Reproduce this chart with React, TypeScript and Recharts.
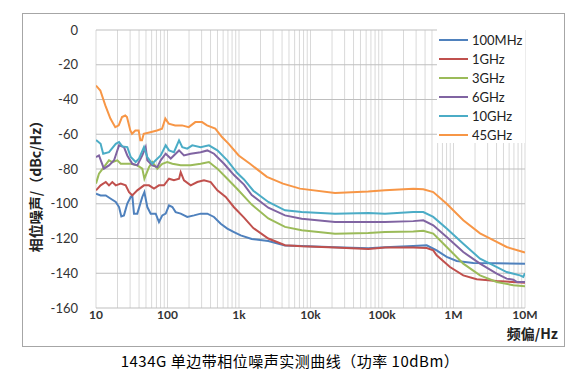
import { LineChart, Line, XAxis, YAxis, CartesianGrid } from 'recharts';

// offset frequency (Hz) / SSB phase noise (dBc/Hz)
const pn100MHz = [
  [10, -94.2], [11.6, -95.2], [13.7, -95.2], [16.1, -97.1], [18.9, -99], [21, -101.9], [22.6, -107.3],
  [24.6, -106.7], [27.4, -99.9], [30.6, -96.1], [32.2, -95.2], [34, -105.7], [37.8, -105.7], [44.4, -96.1],
  [47.5, -93.3], [52.2, -101.9], [58.2, -105.7], [68.4, -105.7], [76, -110.5], [84.6, -106.7], [94.4, -105.7],
  [105, -100.9], [117, -101.9], [130, -104.8], [153, -105.7], [189, -107.6], [235, -106.7], [291, -105.7],
  [361, -105.7], [447, -107.6], [555, -111.5], [686, -114.3], [851, -116.3], [1056, -118.2], [1506, -120.3],
  [2570, -121.4], [4400, -124], [7530, -124.3], [22000, -125], [64300, -125.6], [110000, -125], [274000, -124.3],
  [422000, -123.9], [582000, -126.8], [803000, -130.6], [1.11e6, -132.9], [1.89e6, -134.1], [4e6, -134.3], [1e7, -134.5],
];
const pn1GHz = [
  [10, -92.3], [11.6, -89.4], [13.7, -87.5], [15.2, -89.4], [16.9, -87.5], [18.9, -89.4], [22.2, -88.4],
  [26, -89.4], [29, -93.3], [32.2, -95.2], [37.8, -92.3], [46.9, -89.4], [55.1, -89.4], [64.7, -91.3],
  [76, -89.4], [89.3, -89.4], [105, -85.6], [123, -86.5], [145, -85.6], [153, -81.8], [170, -86.5],
  [211, -89.4], [261, -87.5], [324, -86.5], [402, -87.5], [498, -92.3], [652, -96.1], [851, -102],
  [1175, -108], [1585, -114], [2570, -120], [4400, -123.9], [7530, -124.5], [22000, -125.2], [64300, -126],
  [110000, -125.2], [274000, -125.2], [422000, -125.5], [521000, -126.8], [582000, -129.7], [893000, -136.4],
  [1.37e6, -141.2], [2.11e6, -143.5], [4.02e6, -144.5], [1e7, -145.4],
];
const pn3GHz = [
  [10, -88.4], [11, -82.7], [12.9, -78.9], [15.2, -75], [16.9, -76], [19.9, -75], [22.2, -77], [26, -77],
  [30.6, -77], [37.8, -77.9], [44.4, -79.8], [47.5, -85.6], [55.1, -78.9], [61.3, -76], [72, -79.8],
  [84.6, -77], [99.3, -76], [117, -77], [153, -77.9], [211, -77.9], [291, -77], [380, -76], [498, -79.8],
  [686, -85.6], [946, -91.5], [1506, -100.5], [2570, -108.5], [4400, -113.3], [7530, -115.3], [22000, -117.2],
  [64300, -116.8], [110000, -116.3], [274000, -115.9], [378000, -115.5], [521000, -117.2], [803000, -124.9],
  [1.37e6, -134.5], [2.35e6, -141.2], [4.02e6, -145], [6.86e6, -146.9], [1e7, -147.5],
];
const pn6GHz = [
  [10, -73.1], [11, -72.2], [12.9, -79.8], [15.2, -77.9], [17.9, -75], [21, -66.4], [24.6, -67.4],
  [27.4, -72.2], [32.2, -77], [37.8, -77.9], [44.4, -72.2], [49.5, -67.4], [52.2, -75], [61.3, -77.9],
  [72, -78.9], [80.3, -75], [94.4, -71.2], [111, -74], [130, -71.2], [145, -69.3], [170, -72.2],
  [211, -71.2], [291, -70.3], [361, -69.3], [447, -71.2], [617, -77], [851, -83.5], [1175, -89],
  [1506, -95], [2570, -102.3], [4400, -106.7], [7530, -108.6], [22000, -110.5], [64300, -110.5],
  [110000, -110.5], [274000, -110], [378000, -109.5], [521000, -112.4], [803000, -119.1], [1.37e6, -127.8],
  [2.35e6, -134.5], [4.02e6, -140.2], [5.54e6, -143.1], [6.86e6, -143.7], [7.65e6, -145], [1e7, -145],
];
const pn10GHz = [
  [10, -63.3], [11.6, -65.5], [12.6, -71.2], [15.2, -70.3], [18.9, -65.5], [21, -64.5], [23.3, -67],
  [27.4, -67.4], [30.6, -73.1], [35.9, -76], [39.9, -74], [46.9, -67.4], [52.2, -73.1], [61.3, -77],
  [68.4, -75], [80.3, -72.2], [94.4, -66.4], [105, -69.3], [123, -70.3], [145, -63.5], [161, -67.4],
  [189, -68.3], [222, -66.4], [291, -67.4], [380, -66.4], [498, -69.3], [686, -75], [946, -82.3],
  [1175, -86], [1585, -92.5], [2570, -99], [4400, -103.8], [7530, -104.8], [22000, -105.7], [64300, -105.3],
  [110000, -105.7], [274000, -104.8], [378000, -104.8], [521000, -107.6], [803000, -114.3], [1.37e6, -123],
  [2.35e6, -131.6], [3.24e6, -134.5], [5.54e6, -139.3], [8.51e6, -141.2], [9.46e6, -142.1], [1e7, -140],
];
const pn45GHz = [
  [10, -32], [11.5, -34.8], [13.5, -43.4], [15.9, -51], [18.6, -55.9], [20.8, -54.9], [23.1, -50.1],
  [25.7, -49.2], [27.1, -50.1], [30.2, -57.8], [31.9, -59.7], [35.5, -57.8], [39.5, -57.8], [41.7, -63.5],
  [44, -63.5], [46.5, -59.7], [57.5, -58.8], [71.3, -57.8], [83.8, -56.8], [93.2, -51], [104, -53.9],
  [128, -54.9], [160, -54.9], [198, -55.9], [245, -53], [304, -53], [357, -54.9], [466, -56.8], [578, -61.6],
  [718, -65.5], [990, -72.2], [1425, -77], [2457, -84.5], [4120, -88.4], [7130, -91.3], [22000, -93.8],
  [64300, -93], [110000, -92.3], [274000, -91.3], [378000, -91.7], [521000, -93.3], [803000, -100],
  [1.37e6, -109.5], [2.35e6, -117], [4.02e6, -122], [5.54e6, -124.9], [9.46e6, -127.8], [1e7, -128.1],
];

const seriesNames = ['100MHz', '1GHz', '3GHz', '6GHz', '10GHz', '45GHz'];
const seriesData = [pn100MHz, pn1GHz, pn3GHz, pn6GHz, pn10GHz, pn45GHz];
const seriesColors = ['#4F81BD', '#C0504D', '#9BBB59', '#8064A2', '#4BACC6', '#F79646'];

const majorTicks = [10, 100, 1000, 10000, 100000, 1000000, 10000000];
const majorLabels = ['10', '100', '1k', '10k', '100k', '1M', '10M'];
const yTicks = [0, -20, -40, -60, -80, -100, -120, -140, -160];

// every 1..9 step in each decade, for the log grid
const xTicks: number[] = [];
majorTicks.slice(0, -1).forEach((d) => {
  for (let m = 1; m < 10; m++) xTicks.push(m * d);
});
xTicks.push(10000000);

const FONT = "Lato, 'Noto Sans CJK SC', sans-serif";
const CJK = "'Noto Sans CJK SC', sans-serif";

function fmtX(v: number) {
  const i = majorTicks.indexOf(v);
  return i >= 0 ? majorLabels[i] : '';
}

function LegendBox() {
  return (
    <div style={{ position: 'absolute', left: 437, top: 29, background: '#fff', width: 88, height: 114, paddingTop: 1, boxSizing: 'border-box' }}>
      {seriesNames.map((n, i) => (
        <div key={n} style={{ display: 'flex', alignItems: 'center', height: 19, fontFamily: FONT, fontSize: 13, color: '#222' }}>
          <span style={{ display: 'inline-block', width: 29, height: 2, background: seriesColors[i], marginLeft: 2, marginRight: 4 }} />
          {n}
        </div>
      ))}
    </div>
  );
}

export default function App() {
  const data = seriesData.map((s) => s.map(([f, v]) => ({ f, v })));
  return (
    <div style={{ position: 'absolute', left: 0, top: 0, width: 585, height: 378, background: '#fff', fontFamily: FONT }}>
      <div style={{ position: 'absolute', left: 22, top: 13, width: 541, height: 332, border: '1px solid #a6a6a6' }} />
      <LineChart width={585} height={378} margin={{ top: 30, right: 60, bottom: 40, left: 36 }} style={{ position: 'absolute', left: 0, top: 0 }}>
        <CartesianGrid horizontal={false} stroke="#d9d9d9" />
        <CartesianGrid vertical={false} stroke="#bfbfbf" />
        <XAxis
          type="number"
          dataKey="f"
          scale="log"
          domain={[10, 10000000]}
          ticks={xTicks}
          interval={0}
          tickFormatter={fmtX}
          axisLine={false}
          tickLine={false}
          tickSize={0}
          tickMargin={2}
          height={30}
          allowDataOverflow
          tick={{ fontSize: 12, fontWeight: 'bold', fill: '#333', fontFamily: FONT }}
        />
        <YAxis
          type="number"
          dataKey="v"
          domain={[-160, 0]}
          ticks={yTicks}
          interval={0}
          axisLine={false}
          tickLine={false}
          tickSize={0}
          tickMargin={18}
          width={60}
          tick={{ fontSize: 13, fill: '#333', fontFamily: FONT }}
        />
        {seriesNames.map((n, i) => (
          <Line
            key={n}
            data={data[i]}
            dataKey="v"
            name={n}
            type="linear"
            stroke={seriesColors[i]}
            strokeWidth={2}
            dot={false}
            isAnimationActive={false}
          />
        ))}
      </LineChart>
      <LegendBox />
      <div style={{ position: 'absolute', left: 35, top: 183, transform: 'translate(-50%, -50%) rotate(-90deg)', whiteSpace: 'nowrap', fontSize: 14, fontWeight: 'bold', color: '#222', fontFamily: CJK }}>
        相位噪声/（dBc/Hz）
      </div>
      <div style={{ position: 'absolute', right: 27, top: 324, fontSize: 14, lineHeight: '18px', fontWeight: 'bold', color: '#222', fontFamily: CJK }}>频偏/Hz</div>
      <div style={{ position: 'absolute', left: 0, width: 580, top: 350, textAlign: 'center', fontSize: 15, letterSpacing: 0.5, color: '#000', fontFamily: CJK }}>
        1434G 单边带相位噪声实测曲线（功率 10dBm）
      </div>
    </div>
  );
}
